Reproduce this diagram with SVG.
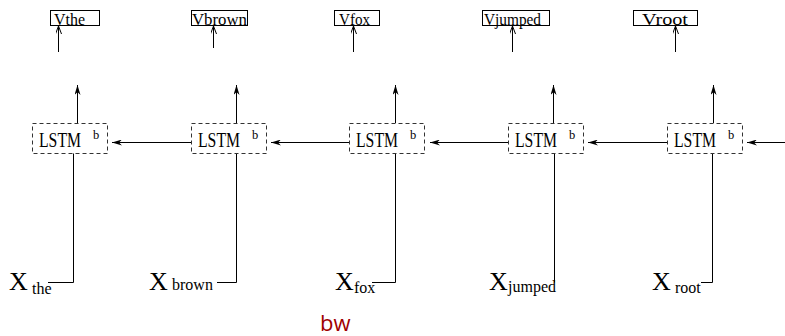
<svg xmlns="http://www.w3.org/2000/svg" width="785" height="336" viewBox="0 0 785 336">
  <style>
    .vbox { fill: #fff; stroke: #000; stroke-width: 1; }
    .lstm { fill: #fff; stroke: #333; stroke-width: 1; stroke-dasharray: 4 3; }
    .line { fill: none; stroke: #000; stroke-width: 1; }
    .vt { font-size: 17.5px; }
    .lt { font-size: 20px; }
    .sup { font-size: 12.5px; }
    .xt { font-size: 26px; }
    .sub { font-size: 16px; }
  </style>
  <defs>
    <marker id="solid" viewBox="0 0 10 6" refX="10" refY="3" markerWidth="10" markerHeight="6" markerUnits="userSpaceOnUse" orient="auto">
      <path d="M0,0 L10,3 L0,6 L3,3 Z" fill="#000"/>
    </marker>
    <marker id="open" viewBox="0 0 8 6" refX="8" refY="3" markerWidth="8" markerHeight="6" markerUnits="userSpaceOnUse" orient="auto">
      <path d="M0,0 L8,3 L0,6" fill="none" stroke="#000" stroke-width="1"/>
    </marker>
  </defs>

  <!-- connectors -->
  <g id="connectors" class="line">
    <!-- embeddings to outputs -->
    <line x1="58.5" y1="52" x2="58.5" y2="26" marker-end="url(#open)"/>
    <line x1="213.5" y1="48" x2="213.5" y2="26" marker-end="url(#open)"/>
    <line x1="353.5" y1="52" x2="353.5" y2="26" marker-end="url(#open)"/>
    <line x1="512.5" y1="52" x2="512.5" y2="26" marker-end="url(#open)"/>
    <line x1="675.5" y1="52" x2="675.5" y2="26" marker-end="url(#open)"/>
    <!-- LSTM upward outputs -->
    <line x1="77.5" y1="123" x2="77.5" y2="85" marker-end="url(#solid)"/>
    <line x1="236.5" y1="123" x2="236.5" y2="85" marker-end="url(#solid)"/>
    <line x1="395.5" y1="123" x2="395.5" y2="85" marker-end="url(#solid)"/>
    <line x1="553.5" y1="123" x2="553.5" y2="85" marker-end="url(#solid)"/>
    <line x1="713.5" y1="123" x2="713.5" y2="85" marker-end="url(#solid)"/>
    <!-- backward recurrence -->
    <line x1="191" y1="142.5" x2="112" y2="142.5" marker-end="url(#solid)"/>
    <line x1="349" y1="142.5" x2="271" y2="142.5" marker-end="url(#solid)"/>
    <line x1="508" y1="142.5" x2="430" y2="142.5" marker-end="url(#solid)"/>
    <line x1="667" y1="142.5" x2="588" y2="142.5" marker-end="url(#solid)"/>
    <line x1="785" y1="142.5" x2="747" y2="142.5" marker-end="url(#solid)"/>
    <!-- inputs -->
    <polyline points="48,282.5 73.5,282.5 73.5,153"/>
    <polyline points="217,282.5 236.5,282.5 236.5,153"/>
    <polyline points="372,282.5 395.5,282.5 395.5,153"/>
    <polyline points="554.5,282.5 554.5,153"/>
    <polyline points="701,282.5 712.5,282.5 712.5,153"/>
  </g>

  <g font-family="'Liberation Serif', 'DejaVu Serif', serif" fill="#000">
    <!-- output vectors -->
    <g id="v-the"><rect class="vbox" x="50.5" y="10.5" width="49" height="15"/><text class="vt" x="54" y="25" textLength="31" lengthAdjust="spacingAndGlyphs">Vthe</text></g>
    <g id="v-brown"><rect class="vbox" x="191.5" y="10.5" width="56" height="15"/><text class="vt" x="192" y="25" textLength="55" lengthAdjust="spacingAndGlyphs">Vbrown</text></g>
    <g id="v-fox"><rect class="vbox" x="334.5" y="10.5" width="45" height="15"/><text class="vt" x="339" y="25" textLength="31" lengthAdjust="spacingAndGlyphs">Vfox</text></g>
    <g id="v-jumped"><rect class="vbox" x="482.5" y="10.5" width="67" height="15"/><text class="vt" x="484" y="25" textLength="57" lengthAdjust="spacingAndGlyphs">Vjumped</text></g>
    <g id="v-root"><rect class="vbox" x="633.5" y="10.5" width="64" height="15"/><text class="vt" x="642" y="25" textLength="46" lengthAdjust="spacingAndGlyphs">Vroot</text></g>

    <!-- backward LSTM cells -->
    <g id="lstm-1"><rect class="lstm" x="32.5" y="123.5" width="75" height="30"/><text class="lt" x="39" y="146.5" textLength="42" lengthAdjust="spacingAndGlyphs">LSTM</text><text class="sup" x="93" y="139">b</text></g>
    <g id="lstm-2"><rect class="lstm" x="191.5" y="123.5" width="75" height="30"/><text class="lt" x="198" y="146.5" textLength="42" lengthAdjust="spacingAndGlyphs">LSTM</text><text class="sup" x="252" y="139">b</text></g>
    <g id="lstm-3"><rect class="lstm" x="349.5" y="123.5" width="75" height="30"/><text class="lt" x="356" y="146.5" textLength="42" lengthAdjust="spacingAndGlyphs">LSTM</text><text class="sup" x="410" y="139">b</text></g>
    <g id="lstm-4"><rect class="lstm" x="508.5" y="123.5" width="75" height="30"/><text class="lt" x="515" y="146.5" textLength="42" lengthAdjust="spacingAndGlyphs">LSTM</text><text class="sup" x="569" y="139">b</text></g>
    <g id="lstm-5"><rect class="lstm" x="667.5" y="123.5" width="75" height="30"/><text class="lt" x="674" y="146.5" textLength="42" lengthAdjust="spacingAndGlyphs">LSTM</text><text class="sup" x="728" y="139">b</text></g>

    <!-- inputs -->
    <g id="x-the"><text class="xt" x="9" y="290">X</text><text class="sub" x="32" y="294">the</text></g>
    <g id="x-brown"><text class="xt" x="149" y="290">X</text><text class="sub" x="172" y="290">brown</text></g>
    <g id="x-fox"><text class="xt" x="335" y="290">X</text><text class="sub" x="354" y="293">fox</text></g>
    <g id="x-jumped"><text class="xt" x="489" y="290">X</text><text class="sub" x="508" y="292">jumped</text></g>
    <g id="x-root"><text class="xt" x="652" y="290">X</text><text class="sub" x="675" y="293">root</text></g>
  </g>

  <text x="320" y="331" font-family="'Open Sans', sans-serif" font-size="22" fill="#a00000">bw</text>
</svg>
